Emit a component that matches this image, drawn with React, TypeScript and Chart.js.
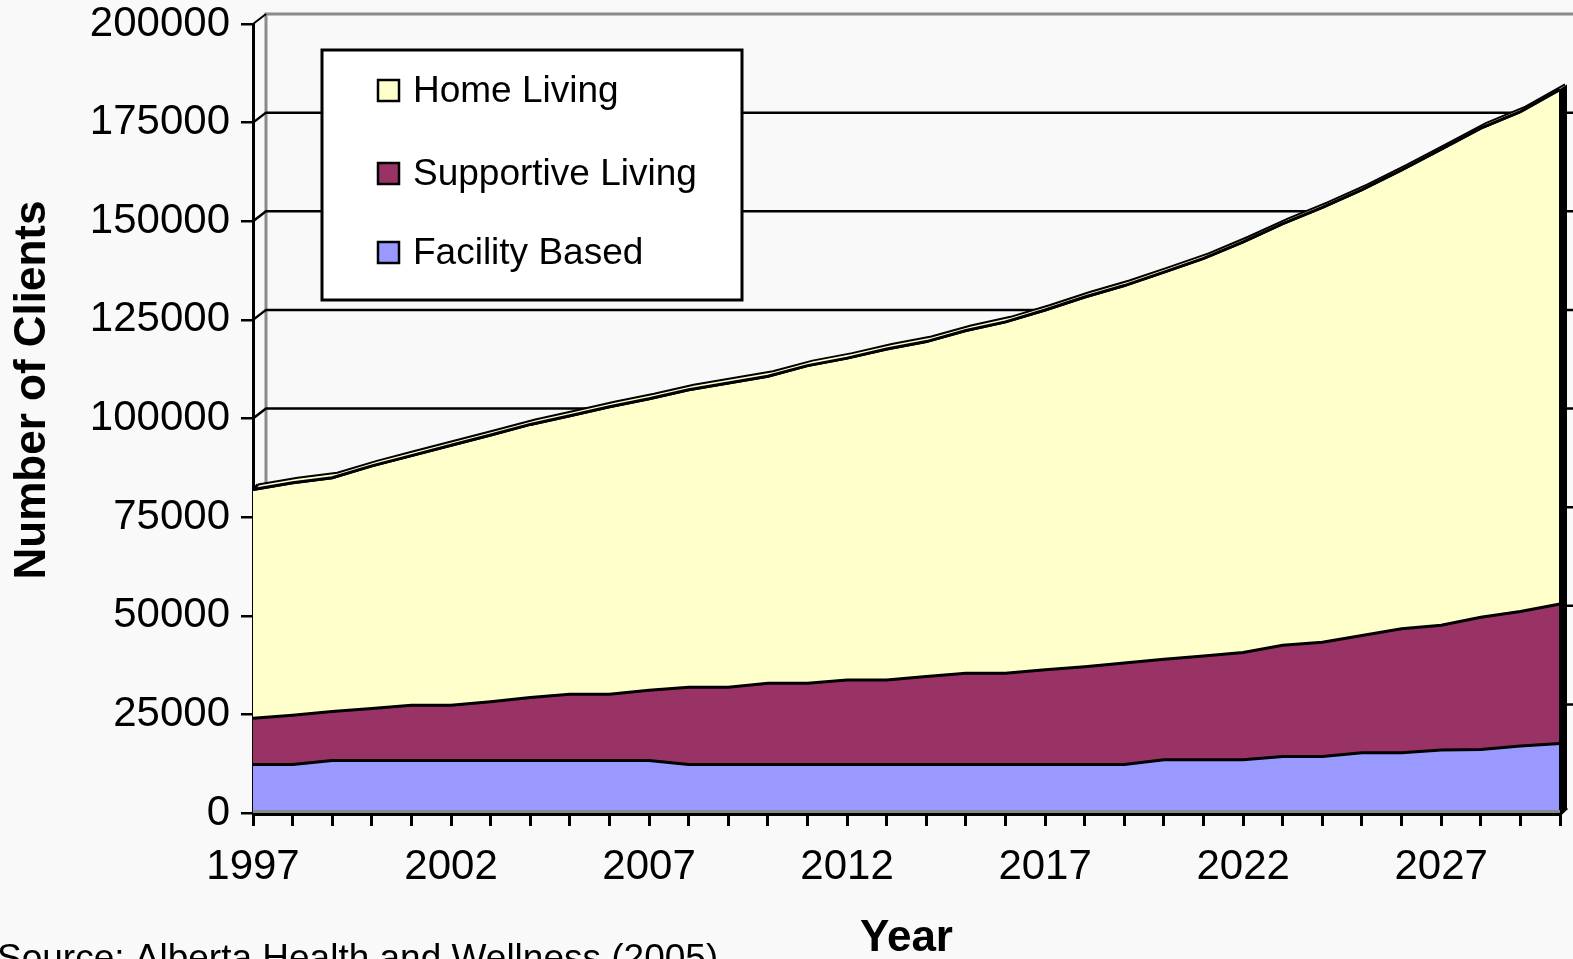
import { useEffect, useRef } from 'react';
import { Chart, registerables } from 'chart.js';

Chart.register(...registerables);

const years = [
  '1997', '1998', '1999', '2000', '2001', '2002', '2003', '2004', '2005', '2006',
  '2007', '2008', '2009', '2010', '2011', '2012', '2013', '2014', '2015', '2016',
  '2017', '2018', '2019', '2020', '2021', '2022', '2023', '2024', '2025', '2026',
  '2027', '2028', '2029', '2030',
];

const xTickLabels = ['1997', '2002', '2007', '2012', '2017', '2022', '2027'];

const facilityBased = [
  12300, 12300, 13300, 13300, 13300, 13300, 13300, 13300, 13300, 13300,
  13300, 12300, 12300, 12300, 12300, 12300, 12300, 12300, 12300, 12300,
  12300, 12300, 12300, 13500, 13500, 13500, 14300, 14300, 15300, 15300,
  16000, 16100, 17000, 17600,
];

const supportiveLiving = [
  11700, 12500, 12400, 13200, 14000, 14000, 14900, 16000, 16800, 16800,
  17800, 19600, 19600, 20600, 20600, 21400, 21400, 22300, 23100, 23100,
  24000, 24800, 25700, 25500, 26300, 27200, 28200, 29000, 29700, 31400,
  31600, 33500, 34100, 35400,
];

const homeLiving = [
  58000, 58900, 59300, 61500, 63300, 65900, 67600, 69200, 70600, 72900,
  73900, 75400, 77100, 77800, 80500, 81600, 83900, 84900, 86900, 89100,
  91200, 93700, 95700, 98100, 100800, 104100, 106900, 110200, 113000, 116300,
  120700, 124000, 126700, 130400,
];

const seriesNames = ['Facility Based', 'Supportive Living', 'Home Living'];
const seriesColors = ['#9999FF', '#993366', '#FFFFCC'];

const yMin = 0;
const yMax = 200000;
const yStep = 25000;

const yTitle = 'Number of Clients';
const xTitle = 'Year';
const sourceNote = 'Source: Alberta Health and Wellness (2005)';

const FONT = '"Liberation Sans", Arial, sans-serif';
const DX = 13;
const DY = -10;
const SD = 5; // series depth

const bgPlugin = {
  id: 'bgPlugin',
  beforeDraw(chart: any) {
    const { ctx } = chart;
    ctx.save();
    ctx.fillStyle = '#F9F9F9';
    ctx.fillRect(0, 0, chart.width, chart.height);
    ctx.restore();
  },
};

const wallPlugin = {
  id: 'wallPlugin',
  beforeDatasetsDraw(chart: any) {
    const { ctx, chartArea: a } = chart;
    const y = chart.scales.y;
    ctx.save();
    ctx.lineCap = 'butt';
    ctx.strokeStyle = '#8A8A8A';
    ctx.lineWidth = 3;
    ctx.beginPath();
    ctx.moveTo(a.left + DX, a.bottom + DY);
    ctx.lineTo(a.left + DX, a.top + DY);
    ctx.lineTo(chart.width, a.top + DY);
    ctx.stroke();
    ctx.strokeStyle = '#000';
    ctx.lineWidth = 2;
    ctx.beginPath();
    ctx.moveTo(a.left, a.top);
    ctx.lineTo(a.left + DX, a.top + DY);
    ctx.stroke();
    y.ticks.forEach((t: any) => {
      if (t.value === yMin || t.value === yMax) return;
      const py = y.getPixelForValue(t.value);
      ctx.strokeStyle = '#000';
      ctx.lineWidth = 2.5;
      ctx.beginPath();
      ctx.moveTo(a.left, py);
      ctx.lineTo(a.left + DX, py + DY);
      ctx.lineTo(chart.width, py + DY);
      ctx.stroke();
    });
    ctx.restore();
  },
  afterDatasetsDraw(chart: any) {
    const { ctx, chartArea: a } = chart;
    const top = chart.getDatasetMeta(2).data;
    ctx.save();
    ctx.beginPath();
    top.forEach((p: any, i: number) => (i === 0 ? ctx.moveTo(p.x, p.y) : ctx.lineTo(p.x, p.y)));
    for (let i = top.length - 1; i >= 0; i--) ctx.lineTo(top[i].x + SD, top[i].y - SD);
    ctx.closePath();
    ctx.fillStyle = '#FFFFCC';
    ctx.fill();
    ctx.strokeStyle = '#000';
    ctx.lineWidth = 2;
    ctx.beginPath();
    top.forEach((p: any, i: number) => (i === 0 ? ctx.moveTo(p.x + SD, p.y - SD) : ctx.lineTo(p.x + SD, p.y - SD)));
    ctx.stroke();
    ctx.lineWidth = 3;
    ctx.beginPath();
    ctx.moveTo(top[0].x, top[0].y);
    ctx.lineTo(top[0].x + SD, top[0].y - SD);
    ctx.stroke();
    ctx.beginPath();
    top.forEach((p: any, i: number) => (i === 0 ? ctx.moveTo(p.x, p.y) : ctx.lineTo(p.x, p.y)));
    ctx.stroke();
    const last = top[top.length - 1];
    ctx.fillStyle = '#000';
    ctx.beginPath();
    ctx.moveTo(last.x - 1, last.y);
    ctx.lineTo(last.x + SD + 2, last.y - SD);
    ctx.lineTo(last.x + SD + 2, a.bottom - SD);
    ctx.lineTo(last.x - 1, a.bottom + 2);
    ctx.closePath();
    ctx.fill();
    ctx.strokeStyle = '#8A8A8A';
    ctx.lineWidth = 3;
    ctx.beginPath();
    ctx.moveTo(a.left, a.bottom - 1.5);
    ctx.lineTo(last.x, a.bottom - 1.5);
    ctx.stroke();
    ctx.strokeStyle = '#000';
    ctx.lineWidth = 3;
    ctx.beginPath();
    ctx.moveTo(a.left, a.bottom + 1.5);
    ctx.lineTo(last.x, a.bottom + 1.5);
    ctx.lineTo(last.x + SD + 2, a.bottom - SD);
    ctx.stroke();
    ctx.restore();
  },
};

const textPlugin = {
  id: 'textPlugin',
  afterDraw(chart: any) {
    const { ctx, chartArea: a } = chart;
    ctx.save();
    ctx.fillStyle = '#000';
    ctx.font = `bold 44px ${FONT}`;
    ctx.textAlign = 'center';
    ctx.textBaseline = 'middle';
    ctx.save();
    ctx.translate(33, 390);
    ctx.rotate(-Math.PI / 2);
    ctx.fillText(yTitle, 0, 0);
    ctx.restore();
    ctx.textBaseline = 'alphabetic';
    ctx.fillText(xTitle, (a.left + a.right) / 2, 951);
    ctx.font = `37px ${FONT}`;
    ctx.textAlign = 'left';
    ctx.fillText(sourceNote, -3, 970);

    const bx = 322, by = 50, bw = 420, bh = 250;
    ctx.fillStyle = '#FFFFFF';
    ctx.fillRect(bx, by, bw, bh);
    ctx.strokeStyle = '#000';
    ctx.lineWidth = 3;
    ctx.strokeRect(bx, by, bw, bh);
    const rows = [91, 174, 253];
    const order = [2, 1, 0];
    ctx.font = `37px ${FONT}`;
    ctx.textBaseline = 'middle';
    order.forEach((di, r) => {
      const ds = chart.data.datasets[di];
      const cy = rows[r];
      ctx.fillStyle = ds.backgroundColor;
      ctx.fillRect(378, cy - 11, 21, 21);
      ctx.strokeStyle = '#000';
      ctx.lineWidth = 2.5;
      ctx.strokeRect(378, cy - 11, 21, 21);
      ctx.fillStyle = '#000';
      ctx.fillText(ds.label, 413, cy + 1);
    });
    ctx.restore();
  },
};

export default function App() {
  const ref = useRef<HTMLCanvasElement | null>(null);

  useEffect(() => {
    document.body.style.margin = '0';
    document.body.style.overflow = 'hidden';
    const canvas = ref.current;
    if (!canvas) return;
    const series = [facilityBased, supportiveLiving, homeLiving];
    const chart = new Chart(canvas, {
      type: 'line',
      data: {
        labels: years,
        datasets: series.map((d, i) => ({
          label: seriesNames[i],
          data: d,
          backgroundColor: seriesColors[i],
          borderColor: '#000',
          borderWidth: 3,
          fill: i === 0 ? 'origin' : '-1',
          pointRadius: 0,
          tension: 0,
        })),
      },
      options: {
        animation: false,
        responsive: false,
        devicePixelRatio: 1,
        layout: { padding: { left: 0, right: 13, top: 24, bottom: 0 } },
        plugins: {
          legend: { display: false },
          tooltip: { enabled: false },
          title: { display: false },
        },
        scales: {
          x: {
            type: 'category',
            offset: false,
            z: 1,
            border: { display: false },
            grid: {
              display: true,
              drawOnChartArea: false,
              drawTicks: true,
              tickLength: 13,
              color: '#000',
              lineWidth: 3,
            },
            ticks: {
              autoSkip: false,
              maxRotation: 0,
              minRotation: 0,
              padding: 20,
              color: '#000',
              font: { family: FONT, size: 42, lineHeight: 1 },
              callback: (_v: any, i: number) => (xTickLabels.includes(years[i]) ? years[i] : ''),
            },
            afterFit: (s: any) => {
              s.height = 146;
              s.paddingLeft = 0;
              s.paddingRight = 0;
              s.paddingTop = 0;
              s.paddingBottom = 0;
            },
          },
          y: {
            stacked: true,
            min: yMin,
            max: yMax,
            z: 1,
            border: { display: true, color: '#000', width: 3 },
            grid: {
              display: true,
              drawOnChartArea: false,
              drawTicks: true,
              tickLength: 12,
              color: '#000',
              lineWidth: 2.5,
            },
            ticks: {
              stepSize: yStep,
              padding: 11,
              color: '#000',
              font: { family: FONT, size: 42, lineHeight: 1 },
              callback: (v: any) => String(v),
            },
            afterFit: (s: any) => {
              s.width = 253;
              s.paddingTop = 0;
              s.paddingBottom = 0;
              s.paddingLeft = 0;
              s.paddingRight = 0;
            },
          },
        },
      },
      plugins: [bgPlugin, wallPlugin, textPlugin],
    });
    return () => chart.destroy();
  }, []);

  return (
    <div style={{ width: 1573, height: 959, position: 'relative' }}>
      <canvas ref={ref} width={1573} height={959} style={{ display: 'block' }} />
    </div>
  );
}
